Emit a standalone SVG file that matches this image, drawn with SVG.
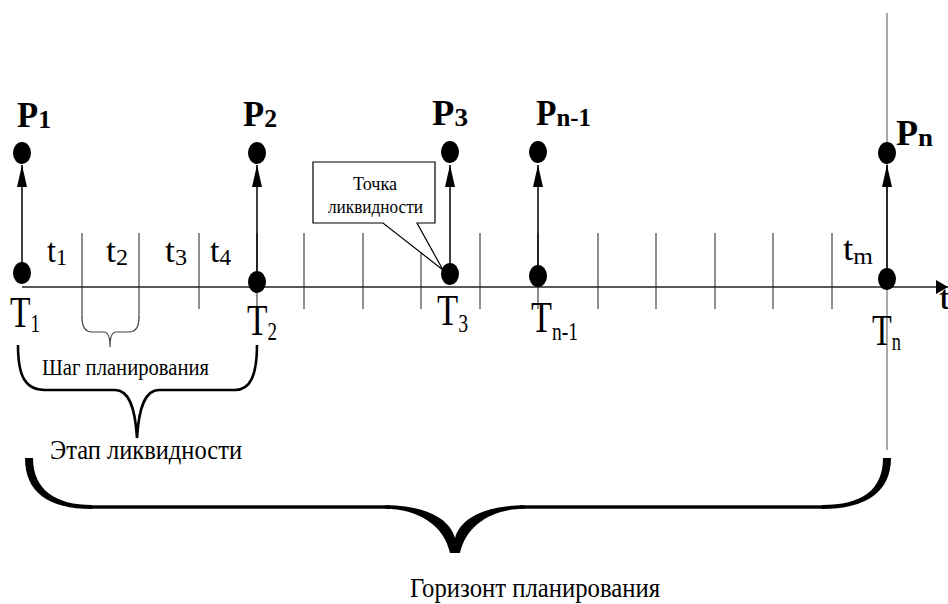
<svg xmlns="http://www.w3.org/2000/svg" width="948" height="604" viewBox="0 0 948 604">
<defs>
<marker id="ah" markerUnits="userSpaceOnUse" viewBox="0 0 22 10" refX="22" refY="5" markerWidth="22" markerHeight="10" orient="auto"><path d="M0,0 L22,5 L0,10 Z" fill="#000"/></marker>
<marker id="axh" markerUnits="userSpaceOnUse" viewBox="0 0 12 14" refX="12" refY="7" markerWidth="12" markerHeight="14" orient="auto"><path d="M0,0 L12,7 L0,14 Z" fill="#000"/></marker>
</defs>
<style>
.txt text{fill:#000}
.P{font-weight:bold;font-size:35px}
.Ps{font-size:26px}
.T{font-size:44px}
.Ts{font-size:25px}
.t{font-size:34px}
.ts{font-size:23px}
.small{font-size:18px}
.tick{stroke:#444;stroke-width:1.2}
.arrow{stroke:#000;stroke-width:1.5;marker-end:url(#ah)}
.dot{fill:#000}
</style>
<rect width="948" height="604" fill="#fff"/>
<g id="connectors" fill="none">
<line x1="887" y1="13" x2="887" y2="450" stroke="#555" stroke-width="1"/>
<g class="ticks">
<line class="tick" x1="82" y1="233" x2="82" y2="318"/>
<line class="tick" x1="139" y1="233" x2="139" y2="318"/>
<line class="tick" x1="199" y1="233" x2="199" y2="309"/>
<line class="tick" x1="257" y1="233" x2="257" y2="309"/>
<line class="tick" x1="304" y1="233" x2="304" y2="309"/>
<line class="tick" x1="363" y1="233" x2="363" y2="309"/>
<line class="tick" x1="421" y1="233" x2="421" y2="309"/>
<line class="tick" x1="480" y1="233" x2="480" y2="309"/>
<line class="tick" x1="538" y1="233" x2="538" y2="309"/>
<line class="tick" x1="598" y1="233" x2="598" y2="309"/>
<line class="tick" x1="656" y1="233" x2="656" y2="309"/>
<line class="tick" x1="715" y1="233" x2="715" y2="309"/>
<line class="tick" x1="773" y1="233" x2="773" y2="309"/>
<line class="tick" x1="832" y1="233" x2="832" y2="309"/>
</g>
<line x1="22" y1="287" x2="948" y2="287" stroke="#222" stroke-width="1.4" marker-end="url(#axh)"/>
<line class="arrow" x1="22" y1="273" x2="22" y2="165"/>
<line class="arrow" x1="257" y1="282" x2="257" y2="165"/>
<line class="arrow" x1="450" y1="274" x2="450" y2="165"/>
<line class="arrow" x1="538" y1="276" x2="538" y2="165"/>
<line class="arrow" x1="887" y1="279" x2="887" y2="165"/>
<path d="M82,317 C82,327 85,332 92,332 L104,332 C108,332 110,337 110,347 C110,337 112,332 116,332 L129,332 C136,332 139,327 139,317" stroke="#444" stroke-width="1.2"/>
<path d="M18,345 C18,376 25,390 45,390 L115,390 C128,390 135,405 137,438 C139,405 146,390 159,390 L235,390 C250,390 257,376 257,345" stroke="#000" stroke-width="2.6"/>
<g fill="#000" stroke="none">
<path d="M25,458 C25,492 48,509 92,509 L92,505 C56,505 33,490 33,458 Z"/>
<rect x="90" y="505.3" width="300" height="3.4"/>
<rect x="520" y="505.3" width="304" height="3.4"/>
<path d="M385,505.3 C428,505.3 450,520 455,538 C460,520 482,505.3 525,505.3 L525,508.7 C492,508.7 466,525 460,553 L450,553 C444,525 418,508.7 385,508.7 Z"/>
<path d="M822,505 C862,505 883,490 883,458 L891,458 C891,492 866,509 822,509 Z"/>
</g>
</g>
<g class="txt" font-family="'Liberation Serif', 'Times New Roman', Times, serif">
<g id="callout">
<path d="M313,162 H435 V223 H417 L443,270 L383,223 H313 Z" fill="#fff" stroke="#000" stroke-width="1.2"/>
<text class="small" x="353" y="190" textLength="44" lengthAdjust="spacingAndGlyphs">Точка</text>
<text class="small" x="328" y="213" textLength="95" lengthAdjust="spacingAndGlyphs">ликвидности</text>
</g>
<g id="node-1">
<ellipse class="dot" cx="22" cy="153" rx="9" ry="11"/>
<ellipse class="dot" cx="22" cy="273" rx="9" ry="11"/>
<text class="P" x="17" y="127" textLength="34" lengthAdjust="spacingAndGlyphs">P<tspan class="Ps" dy="1">1</tspan></text>
<text class="T" x="10" y="327" textLength="30" lengthAdjust="spacingAndGlyphs">T<tspan class="Ts" dy="5">1</tspan></text>
</g>
<g id="node-2">
<ellipse class="dot" cx="257" cy="153" rx="9" ry="11"/>
<ellipse class="dot" cx="257" cy="282" rx="9" ry="11"/>
<text class="P" x="243" y="126" textLength="34" lengthAdjust="spacingAndGlyphs">P<tspan class="Ps" dy="1">2</tspan></text>
<text class="T" x="247" y="335" textLength="30" lengthAdjust="spacingAndGlyphs">T<tspan class="Ts" dy="5">2</tspan></text>
</g>
<g id="node-3">
<ellipse class="dot" cx="450" cy="152" rx="9" ry="11"/>
<ellipse class="dot" cx="450" cy="274" rx="9" ry="11"/>
<text class="P" x="432" y="125" textLength="36" lengthAdjust="spacingAndGlyphs">P<tspan class="Ps" dy="1">3</tspan></text>
<text class="T" x="437" y="325" textLength="31" lengthAdjust="spacingAndGlyphs">T<tspan class="Ts" dy="7">3</tspan></text>
</g>
<g id="node-n-1">
<ellipse class="dot" cx="538" cy="152" rx="9" ry="11"/>
<ellipse class="dot" cx="538" cy="276" rx="9" ry="11"/>
<text class="P" x="536" y="125" textLength="55" lengthAdjust="spacingAndGlyphs">P<tspan class="Ps" dy="1">n-1</tspan></text>
<text class="T" x="531" y="332" textLength="47" lengthAdjust="spacingAndGlyphs">T<tspan class="Ts" dy="8">n-1</tspan></text>
</g>
<g id="node-n">
<ellipse class="dot" cx="887" cy="153" rx="9" ry="11"/>
<ellipse class="dot" cx="887" cy="279" rx="9" ry="11"/>
<text class="P" x="896" y="145" textLength="37" lengthAdjust="spacingAndGlyphs">P<tspan class="Ps" dy="1">n</tspan></text>
<text class="T" x="872" y="345" textLength="29" lengthAdjust="spacingAndGlyphs">T<tspan class="Ts" dy="5">n</tspan></text>
</g>
<g id="intervals">
<text class="t" x="47" y="262" textLength="20" lengthAdjust="spacingAndGlyphs">t<tspan class="ts" dy="3">1</tspan></text>
<text class="t" x="106" y="262" textLength="22" lengthAdjust="spacingAndGlyphs">t<tspan class="ts" dy="3">2</tspan></text>
<text class="t" x="165" y="262" textLength="22" lengthAdjust="spacingAndGlyphs">t<tspan class="ts" dy="3">3</tspan></text>
<text class="t" x="210" y="262" textLength="21" lengthAdjust="spacingAndGlyphs">t<tspan class="ts" dy="3">4</tspan></text>
<text class="t" x="843" y="260" textLength="30" lengthAdjust="spacingAndGlyphs">t<tspan class="ts" dy="4">m</tspan></text>
<text class="t" x="939" y="309" textLength="12" lengthAdjust="spacingAndGlyphs">t</text>
</g>
<g id="labels">
<text x="42" y="375" font-size="24" textLength="167" lengthAdjust="spacingAndGlyphs">Шаг планирования</text>
<text x="50" y="459" font-size="27" textLength="192" lengthAdjust="spacingAndGlyphs">Этап ликвидности</text>
<text x="410" y="597" font-size="28" textLength="250" lengthAdjust="spacingAndGlyphs">Горизонт планирования</text>
</g>
</g>
</svg>
